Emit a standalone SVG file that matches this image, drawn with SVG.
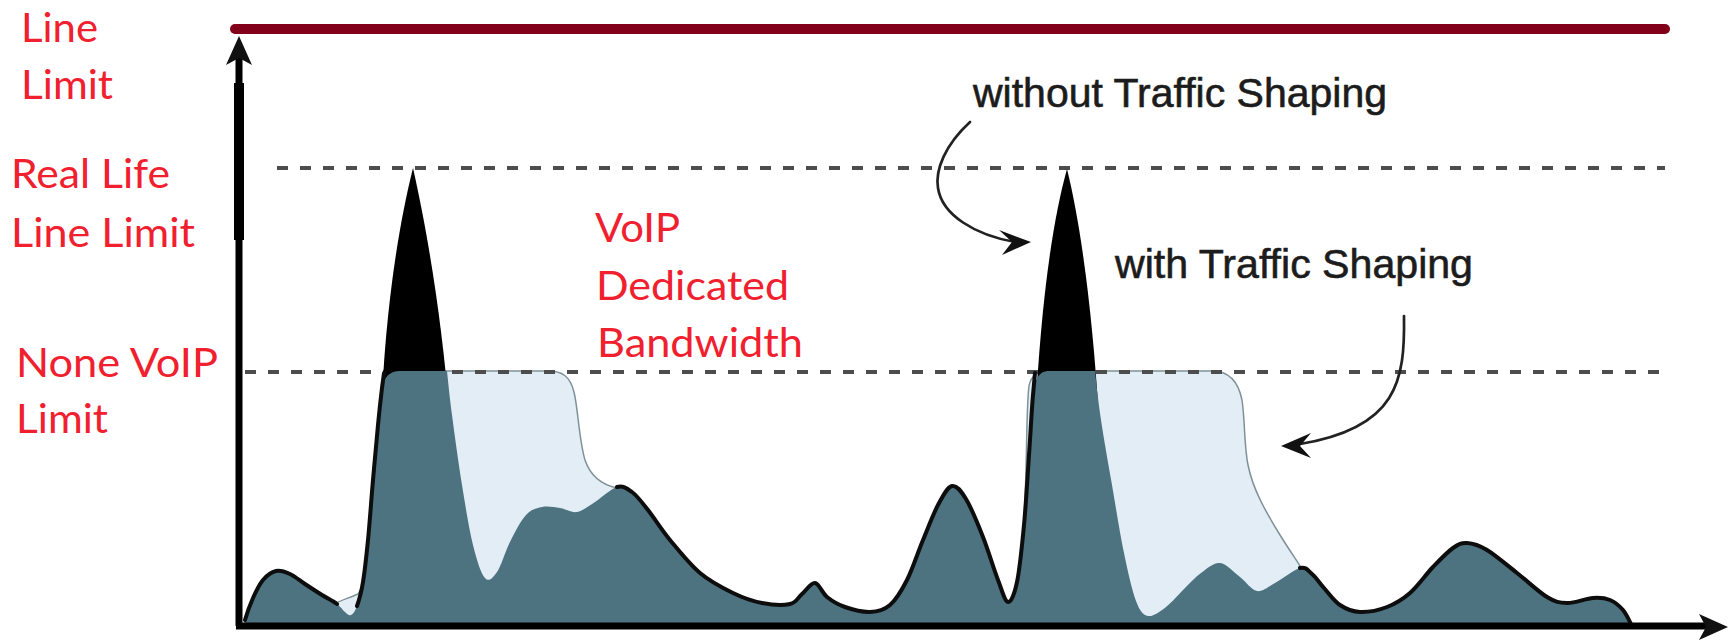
<svg xmlns="http://www.w3.org/2000/svg" width="1728" height="641" viewBox="0 0 1728 641">
  <defs>
    <style>
      .lbl{font-family:Lato,"Open Sans","Liberation Sans",sans-serif;font-size:40px;fill:#f0202e}
      .note{font-family:"Liberation Sans",Arial,sans-serif;font-size:41px;fill:#1c1c1c;stroke:#1c1c1c;stroke-width:0.6}
      .dash{fill:none;stroke:#4d4d4d;stroke-width:4;stroke-dasharray:11 12}
      .outline{fill:none;stroke:#0d0d0d;stroke-width:4;stroke-linejoin:round;stroke-linecap:round}
      .shaped{fill:#e2edf5;stroke:#7f9198;stroke-width:1.5;stroke-linejoin:round}
      .under{fill:#4d7380}
      .spike{fill:#000}
      .axis{fill:none;stroke:#000}
      .ptr{fill:none;stroke:#222;stroke-width:2.7;stroke-linecap:round}
      .head{fill:#111}
    </style>
  </defs>

  <rect width="1728" height="641" fill="#fff"/>

  <!-- physical line limit -->
  <g id="line-limit-bar">
    <line x1="235" y1="29" x2="1665" y2="29" stroke="#82001a" stroke-width="10" stroke-linecap="round"/>
  </g>

  <!-- traffic with shaping: excess spread out after each burst -->
  <g id="shaped-traffic">
    <path class="shaped" d="M333,605 C340,600 350,598 358,594 L366,580 L384,392 Q386,371 400,371 L548,371 C562,371 570,376 574,392 C578,408 579,440 585,460 C591,478 603,485 617,488 L617,626 L333,626 Z"/>
    <path class="shaped" d="M1012,626 L1012,600 C1020,590 1024,540 1026,470 C1027,430 1027,400 1029,386 Q1032,371 1048,371 L1212,371 C1228,371 1238,380 1242,400 C1245,420 1244,445 1248,465 C1253,490 1266,512 1280,535 C1288,548 1295,558 1302,569 L1302,626 Z"/>
  </g>

  <!-- limit levels -->
  <g id="limit-levels">
    <line class="dash" x1="277" y1="168" x2="1665" y2="168"/>
    <line class="dash" x1="245" y1="372" x2="1663" y2="372"/>
  </g>

  <!-- bursts above the limit without shaping -->
  <g id="bursts">
    <path class="spike" d="M381,420 C384,330 395,240 413,168 C428,235 442,320 450,420 Z"/>
    <path class="spike" d="M1035,420 C1040,320 1050,230 1067,169 C1082,230 1093,320 1099,420 Z"/>
  </g>

  <!-- traffic below the limit -->
  <g id="base-traffic">
    <path class="under" d="M243,626 L245,620 C247,613 250,604.7 253,598 S259.2,584.5 263,580 S271.5,572 276,571 S285.2,571.8 290,574 S299.7,580.5 305,584 S316.7,591.7 322,595 S333.2,601.2 337,604 S342.7,610.2 345,612 S349,616 351,615 S355,611.5 357,606 S361.2,593 363,582 S366.3,557 368,540 S371.3,499.2 373,480 S376.5,440.3 378,425 S381,396.3 382,388 Q385,371 400,371 L447,371 C448.5,385 449.5,396 452,415 S458.5,463.3 462,485 S469.2,529.5 473,545 S481,573.5 485,578 S492.8,578 497,572 S505.2,551.5 510,542 S520.7,520.8 526,515 S536.3,508.2 542,507 S554.2,507.2 560,508 S571.2,513 577,512 S588.3,506.2 595,502 S610.8,488.7 617,487 S626.8,488.2 632,492 S641.7,502 648,510 S661.3,529.5 670,540 S689.5,564.2 700,573 S722.7,588 733,593 S752.5,601.2 762,603 S783.3,605.5 790,604 S797.8,597.5 802,594 S810.8,582.5 815,583 S822,593 827,597 S837.8,604.5 845,607 S862.5,612.3 870,612 S883.8,610.3 890,605 S901.5,590.8 907,580 S917.8,552.5 923,540 S933.2,514 938,505 S947.3,487 952,486 S960.8,490.5 966,499 S977.7,523.5 983,537 S993.8,569.2 998,580 S1004.8,601.7 1008,602 S1014.3,594.8 1017,582 S1022,546.2 1024,525 S1027.5,476.7 1029,455 S1031.8,408.3 1033,395 Q1035,371 1048,371 L1095,371 C1096.5,385 1098.2,401 1101,420 S1108.2,462.8 1112,485 S1120,533.7 1124,553 S1132,590.5 1136,601 S1143,615 1148,616 S1159.8,611.7 1166,607 S1179.2,593.7 1185,588 S1195.2,577.2 1201,573 S1213.5,562.3 1220,563 S1233.8,572.3 1240,577 S1251.2,590 1257,591 S1267.8,586.8 1275,583 S1293.8,569.5 1300,568 S1308,570.7 1312,574 S1319.3,582.8 1324,588 S1334,601 1340,605 S1352.2,611.7 1360,612 S1378.7,610.2 1387,607 S1402.3,599.7 1410,593 S1425.8,574.5 1433,567 S1447.3,552 1453,548 S1461.3,542.7 1467,543 S1478.7,545 1487,550 S1507,565.2 1517,573 S1538.7,592 1547,597 S1559.3,602.8 1567,603 S1585.8,598.5 1593,598 S1605,598 1610,600 S1619.3,605.7 1623,610 S1630.2,622.7 1632,626 Z"/>
    <path class="outline" d="M245,620 C247,613 250,604.7 253,598 S259.2,584.5 263,580 S271.5,572 276,571 S285.2,571.8 290,574 S299.7,580.5 305,584 S316.7,591.7 322,595 S333.2,601.2 337,604"/>
    <path class="outline" d="M357,606 C359,600.5 361.2,593 363,582 S366.3,557 368,540 S371.3,499.2 373,480 S376.5,440.3 378,425 S381,396.3 382,388 L384,373"/>
    <path class="outline" d="M617,487 C623.2,485.3 626.8,488.2 632,492 S641.7,502 648,510 S661.3,529.5 670,540 S689.5,564.2 700,573 S722.7,588 733,593 S752.5,601.2 762,603 S783.3,605.5 790,604 S797.8,597.5 802,594 S810.8,582.5 815,583 S822,593 827,597 S837.8,604.5 845,607 S862.5,612.3 870,612 S883.8,610.3 890,605 S901.5,590.8 907,580 S917.8,552.5 923,540 S933.2,514 938,505 S947.3,487 952,486 S960.8,490.5 966,499 S977.7,523.5 983,537 S993.8,569.2 998,580 S1004.8,601.7 1008,602 S1014.3,594.8 1017,582 S1022,546.2 1024,525 S1027.5,476.7 1029,455 S1031.8,408.3 1033,395 L1035,373"/>
    <path class="outline" d="M1300,568 C1306.2,566.5 1308,570.7 1312,574 S1319.3,582.8 1324,588 S1334,601 1340,605 S1352.2,611.7 1360,612 S1378.7,610.2 1387,607 S1402.3,599.7 1410,593 S1425.8,574.5 1433,567 S1447.3,552 1453,548 S1461.3,542.7 1467,543 S1478.7,545 1487,550 S1507,565.2 1517,573 S1538.7,592 1547,597 S1559.3,602.8 1567,603 S1585.8,598.5 1593,598 S1605,598 1610,600 S1619.3,605.7 1623,610 S1630.2,622.7 1632,626"/>
  </g>

  <!-- axes -->
  <g id="axes">
    <path class="axis" stroke-width="7" d="M239,58 V626"/>
    <path class="axis" stroke-width="10" d="M239,83 V240"/>
    <path class="axis" stroke-width="7" d="M236,626 H1706"/>
    <polygon class="head" points="239,36 252,65 239,58 226,65"/>
    <polygon class="head" points="1728,627 1699,614 1706,627 1699,640"/>
  </g>

  <!-- pointer arrows from the notes -->
  <g id="connectors">
    <path class="ptr" d="M970,122 C945,145 935,170 938,188 C942,215 975,235 1015,242"/>
    <polygon class="head" points="1031,242 999,230 1012,242 1002,255"/>
    <path class="ptr" d="M1404,316 C1405,380 1398,428 1300,444"/>
    <polygon class="head" points="1281,446 1311,433 1300,446 1311,458"/>
  </g>

  <!-- level labels -->
  <g id="label-line-limit">
    <text class="lbl" x="21" y="42" textLength="77" lengthAdjust="spacingAndGlyphs">Line</text>
    <text class="lbl" x="21" y="99" textLength="92" lengthAdjust="spacingAndGlyphs">Limit</text>
  </g>
  <g id="label-real-life">
    <text class="lbl" x="11" y="188" textLength="159" lengthAdjust="spacingAndGlyphs">Real Life</text>
    <text class="lbl" x="11" y="247" textLength="184" lengthAdjust="spacingAndGlyphs">Line Limit</text>
  </g>
  <g id="label-none-voip">
    <text class="lbl" x="16" y="377" textLength="202" lengthAdjust="spacingAndGlyphs">None VoIP</text>
    <text class="lbl" x="16" y="433" textLength="92" lengthAdjust="spacingAndGlyphs">Limit</text>
  </g>
  <g id="label-voip">
    <text class="lbl" x="595" y="242" textLength="85" lengthAdjust="spacingAndGlyphs">VoIP</text>
    <text class="lbl" x="596" y="300" textLength="193" lengthAdjust="spacingAndGlyphs">Dedicated</text>
    <text class="lbl" x="597" y="357" textLength="206" lengthAdjust="spacingAndGlyphs">Bandwidth</text>
  </g>

  <!-- notes -->
  <g id="note-without">
    <text class="note" x="973" y="107" textLength="414" lengthAdjust="spacingAndGlyphs">without Traffic Shaping</text>
  </g>
  <g id="note-with">
    <text class="note" x="1115" y="278" textLength="358" lengthAdjust="spacingAndGlyphs">with Traffic Shaping</text>
  </g>
</svg>
